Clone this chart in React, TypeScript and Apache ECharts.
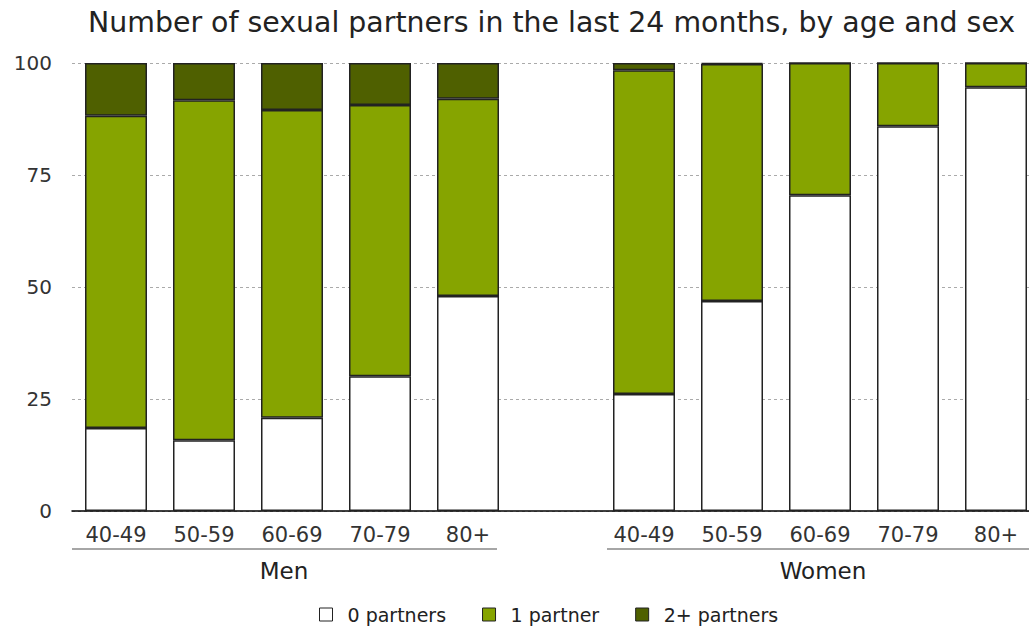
import React, { useEffect, useRef } from "react";
import * as echarts from "echarts";

const categories = ["40-49", "50-59", "60-69", "70-79", "80+", "", "40-49", "50-59", "60-69", "70-79", "80+"];
const groups = ["Men", "Women"];
const zeroPartners = [18.5, 15.8, 20.8, 30.1, 48.0, null, 26.1, 46.9, 70.5, 85.9, 94.6];
const onePartner = [69.7, 75.9, 68.7, 60.5, 44.0, null, 72.3, 52.9, 29.5, 14.1, 5.4];
const twoPlusPartners = [11.8, 8.3, 10.5, 9.4, 8.0, null, 1.6, 0.2, 0, 0, 0];
const yTicks = [0, 25, 50, 75, 100];
const seriesNames = ["0 partners", "1 partner", "2+ partners"];
const colors = ["#ffffff", "#86a400", "#4f6000"];

const FONT = "'DejaVu Sans', sans-serif";

export default function App() {
  const ref = useRef<HTMLDivElement>(null);
  useEffect(() => {
    document.body.style.margin = "0";
    document.body.style.overflow = "hidden";
    const chart = echarts.init(ref.current!, null, { renderer: "svg" });
    const values = [zeroPartners, onePartner, twoPlusPartners];
    chart.setOption({
      animation: false,
      backgroundColor: "#ffffff",
      title: {
        text: "Number of sexual partners in the last 24 months, by age and sex",
        left: 83,
        top: 3,
        textStyle: { fontFamily: FONT, fontSize: 28.4, fontWeight: "normal", color: "#222" },
      },
      legend: {
        top: 600,
        left: 314,
        icon: "rect",
        itemWidth: 13,
        itemHeight: 13,
        itemGap: 36,
        data: seriesNames,
        itemStyle: { borderColor: "#222", borderWidth: 1 },
        textStyle: { fontFamily: FONT, fontSize: 19, color: "#222", padding: [0, 0, 0, 10] },
      },
      grid: { left: 72, top: 63, width: 968, height: 448 },
      xAxis: {
        type: "category",
        data: categories,
        axisLine: { lineStyle: { color: "#000", width: 1.5 } },
        axisTick: { show: false },
        axisLabel: { fontFamily: FONT, fontSize: 21, color: "#333", margin: 13 },
      },
      yAxis: {
        type: "value",
        min: yTicks[0],
        max: yTicks[yTicks.length - 1],
        interval: 25,
        axisLine: { show: false },
        axisTick: { show: false },
        axisLabel: { fontFamily: FONT, fontSize: 20, color: "#333", margin: 20 },
        splitLine: { lineStyle: { color: "#aaa", type: [3, 3], width: 1 } },
      },
      series: seriesNames.map((name, i) => ({
        name,
        type: "bar",
        stack: "total",
        barWidth: 62,
        data: values[i],
        itemStyle: { color: colors[i], borderColor: "#222", borderWidth: 1.5 },
      })),
      graphic: [
        { type: "line", shape: { x1: 72, y1: 549, x2: 497, y2: 549 }, style: { stroke: "#888", lineWidth: 1.5 } },
        { type: "line", shape: { x1: 607, y1: 549, x2: 1040, y2: 549 }, style: { stroke: "#888", lineWidth: 1.5 } },
        {
          type: "text",
          x: 284,
          y: 571,
          style: { text: groups[0], fontFamily: FONT, fontSize: 23, fill: "#222", align: "center", verticalAlign: "middle" },
        },
        {
          type: "text",
          x: 823,
          y: 571,
          style: { text: groups[1], fontFamily: FONT, fontSize: 23, fill: "#222", align: "center", verticalAlign: "middle" },
        },
      ],
    });
    return () => chart.dispose();
  }, []);
  return (
    <div style={{ width: 1029, height: 629, overflow: "hidden" }}>
      <div ref={ref} style={{ width: 1040, height: 629 }} />
    </div>
  );
}
